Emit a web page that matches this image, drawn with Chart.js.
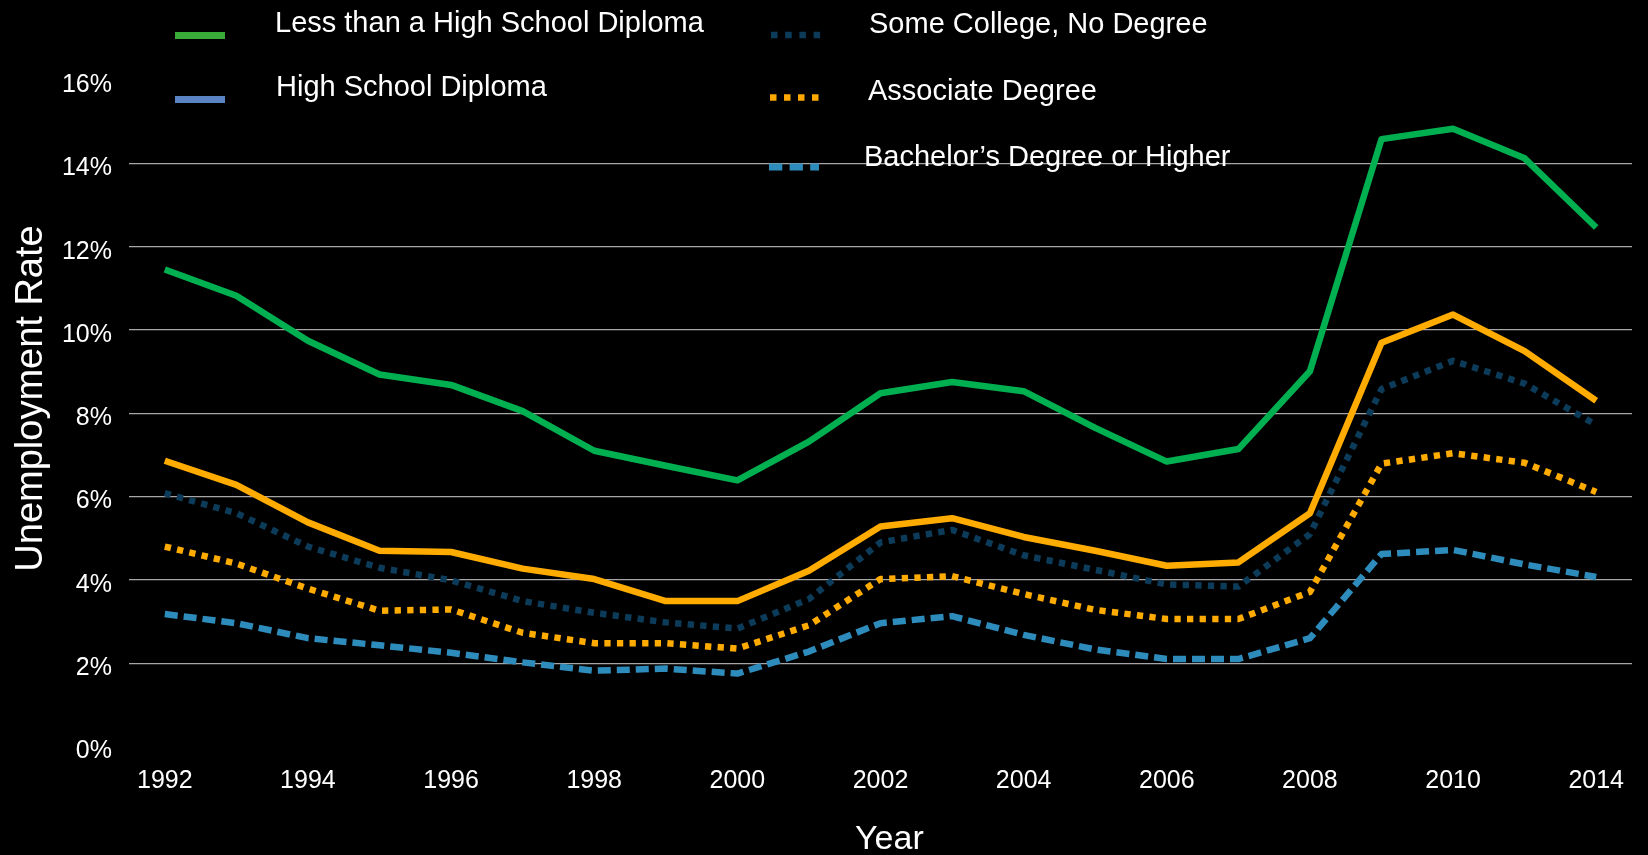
<!DOCTYPE html>
<html>
<head>
<meta charset="utf-8">
<title>Unemployment Rate by Education</title>
<script src="https://cdn.jsdelivr.net/npm/chart.js@4"></script>
<style>
    html, body {
        margin: 0;
        padding: 0;
        background: #000;
        overflow: hidden;
    }
    #wrap {
        position: relative;
        width: 1648px;
        height: 855px;
    }
</style>
</head>
<body>
<div id="wrap"><canvas id="rateChart"></canvas></div>
<script>
// Years on the axis (2012 and 2013 are not in the source data)
const years = ['1992', '1993', '1994', '1995', '1996', '1997', '1998', '1999', '2000', '2001',
    '2002', '2003', '2004', '2005', '2006', '2007', '2008', '2009', '2010', '2011', '2014'];

// Unemployment rate, percent
const lessThanHighSchool = [11.45, 10.82, 9.74, 8.93, 8.68, 8.05, 7.10, 6.74, 6.39, 7.32,
    8.48, 8.75, 8.53, 7.65, 6.84, 7.14, 9.01, 14.58, 14.83, 14.12, 12.46];
const highSchool = [6.86, 6.28, 5.38, 4.70, 4.67, 4.27, 4.02, 3.49, 3.49, 4.22,
    5.28, 5.48, 5.03, 4.70, 4.34, 4.42, 5.60, 9.69, 10.37, 9.49, 8.30];
const someCollege = [6.08, 5.60, 4.80, 4.29, 3.99, 3.49, 3.21, 2.98, 2.83, 3.54,
    4.90, 5.20, 4.59, 4.24, 3.89, 3.84, 5.10, 8.58, 9.26, 8.71, 7.72];
const associate = [4.80, 4.39, 3.79, 3.26, 3.29, 2.73, 2.48, 2.48, 2.35, 2.91,
    4.02, 4.09, 3.66, 3.28, 3.06, 3.06, 3.71, 6.79, 7.04, 6.81, 6.11];
const bachelors = [3.18, 2.96, 2.60, 2.43, 2.25, 2.02, 1.82, 1.87, 1.75, 2.28,
    2.96, 3.13, 2.68, 2.33, 2.10, 2.10, 2.60, 4.62, 4.72, 4.37, 4.07];

const yTicks = [0, 2, 4, 6, 8, 10, 12, 14, 16];

const FONT = "'Liberation Sans', Arial, sans-serif";

// Legend as it sits on the slide: two columns, drawn by hand
const legendItems = [
    { text: 'Less than a High School Diploma', color: '#39ab38', dash: [], x: 175, y: 35.5, tx: 275, ty: 32, w: 7 },
    { text: 'High School Diploma', color: '#5a84c4', dash: [], x: 175, y: 99.5, tx: 276, ty: 96, w: 7 },
    { text: 'Some College, No Degree', color: '#0c3c5a', dash: [6.5, 7.7], x: 771, y: 35, tx: 869, ty: 33, w: 6.6 },
    { text: 'Associate Degree', color: '#ffa800', dash: [6.5, 7.5], x: 770, y: 97.5, tx: 868, ty: 100, w: 6.6 },
    { text: 'Bachelor\u2019s Degree or Higher', color: '#2e8cbc', dash: [13.3, 7.3], x: 769, y: 167, tx: 864, ty: 166, w: 7 }
];

const slideLegend = {
    id: 'slideLegend',
    afterDraw(chart) {
        const ctx = chart.ctx;
        ctx.save();
        legendItems.forEach(item => {
            ctx.beginPath();
            ctx.setLineDash(item.dash);
            ctx.lineCap = 'butt';
            ctx.lineWidth = item.w;
            ctx.strokeStyle = item.color;
            ctx.moveTo(item.x, item.y);
            ctx.lineTo(item.x + 50, item.y);
            ctx.stroke();
        });
        ctx.setLineDash([]);
        ctx.fillStyle = '#ffffff';
        ctx.font = '29px ' + FONT;
        ctx.textAlign = 'left';
        ctx.textBaseline = 'alphabetic';
        legendItems.forEach(item => ctx.fillText(item.text, item.tx, item.ty));

        // Axis titles
        ctx.font = '34px ' + FONT;
        ctx.fillText('Year', 855, 849);
        ctx.translate(42, 398.5);
        ctx.rotate(-Math.PI / 2);
        ctx.font = '38px ' + FONT;
        ctx.textAlign = 'center';
        ctx.fillText('Unemployment Rate', 0, 0);
        ctx.restore();
    }
};

function series(data, color, dash, order) {
    return {
        data: data,
        borderColor: color,
        borderWidth: 6.5,
        borderDash: dash,
        borderCapStyle: 'butt',
        borderJoinStyle: 'round',
        pointRadius: 0,
        tension: 0,
        fill: false,
        order: order
    };
}

const ctx = document.getElementById('rateChart').getContext('2d');
const chart = new Chart(ctx, {
    type: 'line',
    data: {
        labels: years,
        datasets: [
            series(lessThanHighSchool, '#00b050', [], 5),
            series(highSchool, '#ffab00', [], 4),
            series(someCollege, '#0c3c5a', [6.3, 6.3], 3),
            series(associate, '#ffab00', [6.3, 6.3], 2),
            series(bachelors, '#2e8cbc', [13, 6], 1)
        ]
    },
    options: {
        responsive: true,
        maintainAspectRatio: false,
        animation: false,
        layout: {
            padding: { left: 0, top: 80, right: 16, bottom: 0 }
        },
        plugins: {
            legend: { display: false },
            tooltip: { enabled: false }
        },
        scales: {
            x: {
                type: 'category',
                offset: true,
                border: { display: false },
                grid: { display: false, drawTicks: false },
                ticks: {
                    autoSkip: false,
                    maxRotation: 0,
                    padding: 20,
                    color: '#ffffff',
                    font: { family: FONT, size: 25 },
                    callback: function(value, index) {
                        return index % 2 === 0 ? this.getLabelForValue(value) : '';
                    }
                },
                afterFit: (scale) => { scale.height = 108.5; }
            },
            y: {
                min: 0,
                max: 16,
                border: { display: false },
                afterBuildTicks: (scale) => {
                    scale.ticks = yTicks.map(v => ({ value: v }));
                },
                grid: {
                    drawTicks: false,
                    lineWidth: 1.3,
                    color: (c) => (c.tick && (c.tick.value === 0 || c.tick.value === 16)) ? 'rgba(0,0,0,0)' : '#a6a6a6'
                },
                ticks: {
                    padding: 17,
                    labelOffset: 5,
                    color: '#ffffff',
                    font: { family: FONT, size: 25 },
                    callback: (v) => v + '%'
                },
                afterFit: (scale) => { scale.width = 129; }
            }
        }
    },
    plugins: [slideLegend]
});
</script>
</body>
</html>
